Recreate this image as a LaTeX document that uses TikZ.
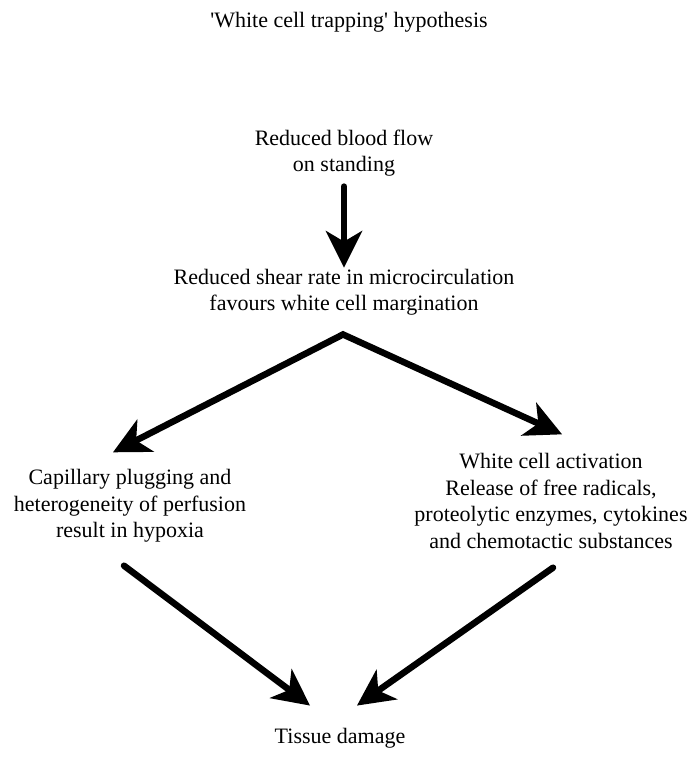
\documentclass[tikz,border=0pt]{standalone}
\usepackage{fontspec}
\setmainfont{Liberation Serif}
\usepackage{tikz}
\usetikzlibrary{arrows.meta, positioning, calc}

\begin{document}
\begin{tikzpicture}[x=1pt, y=-1pt,
  txt/.style={inner sep=0pt, align=center, font=\fontsize{22}{26.5}\selectfont},
  flow/.style={line width=6.5pt, line cap=round,
    -{Stealth[length=37pt, width=37pt, inset=11pt, line width=0pt]}},
  twoflow/.style={flow,
    {Stealth[length=37pt, width=37pt, inset=11pt, line width=0pt]}-{Stealth[length=37pt, width=37pt, inset=11pt, line width=0pt]}}]

% Frame
\useasboundingbox (0,0) rectangle (693,762);

% Title
\node[txt, anchor=base] (title) at (349,28) {\textquotesingle White cell trapping\textquotesingle\ hypothesis};

% Boxes of text
\node[txt] (blood) at (344,153) {Reduced blood flow\\on standing};
\node[txt] (shear) at (344,292) {Reduced shear rate in microcirculation\\favours white cell margination};
\node[txt] (capillary) at (130,506) {Capillary plugging and\\heterogeneity of perfusion\\result in hypoxia};
\node[txt] (activation) at (551,501) {White cell activation\\Release of free radicals,\\proteolytic enzymes, cytokines\\and chemotactic substances};
\node[txt, anchor=base] (tissue) at (340,743) {Tissue damage};

% Arrows
\draw[flow] ($(blood.south)+(0,10)$) -- ($(shear.north)+(0,-1)$);
\draw[twoflow] ($(capillary.north)+(-17,-17)$) -- ($(shear.south)+(-1,19)$) -- ($(activation.north)+(11,-19)$);
\draw[flow] ($(capillary.south)+(-6,23)$) -- ($(tissue.north)+(-30,-22)$);
\draw[flow] ($(activation.south)+(2,19)$) -- ($(tissue.north)+(17,-22)$);

\end{tikzpicture}
\end{document}
